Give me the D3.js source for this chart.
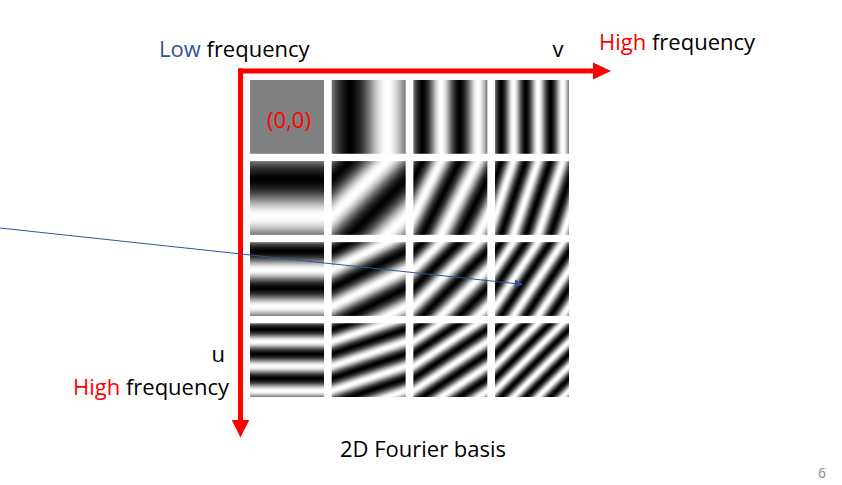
<!DOCTYPE html>
<html>
<head>
<meta charset="utf-8">
<script src="https://cdn.jsdelivr.net/npm/d3@7"></script>
<style>
  html, body { margin: 0; padding: 0; background: #fff; }
  text { font-family: "Open Sans", "Noto Sans", sans-serif; }
</style>
</head>
<body>
<div id="chart"></div>
<script>
// frequencies along rows (u) and columns (v)
var uFreqs = [0, 1, 2, 3];
var vFreqs = [0, 1, 2, 3];
var originLabel = "(0,0)";
var title = "2D Fourier basis";
var pageNumber = "6";

var width = 842, height = 485;
var fs = 22;
var svg = d3.select("#chart").append("svg")
	.attr("width", width).attr("height", height);

var x = d3.scaleBand().domain(vFreqs).range([250, 569]).paddingInner(0.094);
var y = d3.scaleBand().domain(uFreqs).range([80, 397]).paddingInner(0.09);

var cells = [];
uFreqs.forEach(function (u) {
	vFreqs.forEach(function (v) { cells.push({u: u, v: v}); });
});

var defs = svg.append("defs");

// one period of -sin as gradient stops
var stopT = d3.range(0, 1.0001, 1 / 24);
cells.forEach(function (d, i) {
	if (d.u == 0 && d.v == 0) return;
	var S = x.bandwidth(), T = y.bandwidth();
	var x0 = x(d.v), y0 = y(d.u);
	// period vector: t = v*dx/S + u*dy/T
	var a = d.v / S, b = d.u / T, n = a * a + b * b;
	var g = defs.append("linearGradient")
		.attr("id", "g" + i)
		.attr("gradientUnits", "userSpaceOnUse")
		.attr("spreadMethod", "repeat")
		.attr("x1", x0).attr("y1", y0)
		.attr("x2", x0 + a / n).attr("y2", y0 + b / n);
	g.selectAll("stop").data(stopT).enter().append("stop")
		.attr("offset", function (t) { return t; })
		.attr("stop-color", function (t) {
			var val = 0.5 - 0.5 * Math.sin(2 * Math.PI * t);
			return d3.gray(val * 100) + "";
		});
});

svg.selectAll("rect.cell").data(cells).enter().append("rect")
	.attr("class", "cell")
	.attr("x", function (d) { return x(d.v); })
	.attr("y", function (d) { return y(d.u); })
	.attr("width", x.bandwidth())
	.attr("height", y.bandwidth())
	.attr("fill", function (d, i) { return (d.u == 0 && d.v == 0) ? "#808080" : "url(#g" + i + ")"; });

svg.append("text")
	.attr("x", x(0) + x.bandwidth() / 2 + 2).attr("y", 128)
	.attr("text-anchor", "middle").attr("font-size", fs).attr("fill", "#ff0000")
	.text(originLabel);

// red axes
var axX = 240.5, axY = 71;
svg.append("line").attr("x1", axX - 2.5).attr("y1", axY).attr("x2", 595).attr("y2", axY)
	.attr("stroke", "#ff0000").attr("stroke-width", 5);
svg.append("path").attr("d", "M593,62.5L611,71L593,79.5Z").attr("fill", "#ff0000");
svg.append("line").attr("x1", axX).attr("y1", axY - 2.5).attr("x2", axX).attr("y2", 422)
	.attr("stroke", "#ff0000").attr("stroke-width", 5);
svg.append("path").attr("d", "M231.7,420L249.3,420L240.5,437.5Z").attr("fill", "#ff0000");

// blue pointer
defs.append("marker").attr("id", "ah")
	.attr("viewBox", "0 0 10 10").attr("refX", 9).attr("refY", 5)
	.attr("markerWidth", 10).attr("markerHeight", 8).attr("markerUnits", "userSpaceOnUse")
	.attr("orient", "auto")
	.append("path").attr("d", "M0,0L10,5L0,10Z").attr("fill", "#2F5597");
svg.append("line").attr("x1", 0).attr("y1", 228).attr("x2", 522).attr("y2", 284.3)
	.attr("stroke", "#2F5597").attr("stroke-width", 1).attr("marker-end", "url(#ah)");

// labels
var t1 = svg.append("text").attr("x", 159).attr("y", 57).attr("font-size", fs);
t1.append("tspan").attr("fill", "#2F5597").text("Low");
t1.append("tspan").attr("fill", "#000").text(" frequency");

svg.append("text").attr("x", 558).attr("y", 57).attr("text-anchor", "middle")
	.attr("font-size", fs).text("v");

var t2 = svg.append("text").attr("x", 599).attr("y", 50).attr("font-size", fs);
t2.append("tspan").attr("fill", "#ff0000").text("High");
t2.append("tspan").attr("fill", "#000").text(" frequency");

svg.append("text").attr("x", 225).attr("y", 362).attr("text-anchor", "end")
	.attr("font-size", fs).text("u");

var t3 = svg.append("text").attr("x", 229).attr("y", 395).attr("text-anchor", "end").attr("font-size", fs);
t3.append("tspan").attr("fill", "#ff0000").text("High");
t3.append("tspan").attr("fill", "#000").text(" frequency");

svg.append("text").attr("x", 423).attr("y", 457).attr("text-anchor", "middle")
	.attr("font-size", fs).text(title);

svg.append("text").attr("x", 822).attr("y", 478).attr("text-anchor", "middle")
	.attr("font-size", 14).attr("fill", "#898989").text(pageNumber);
</script>
</body>
</html>
